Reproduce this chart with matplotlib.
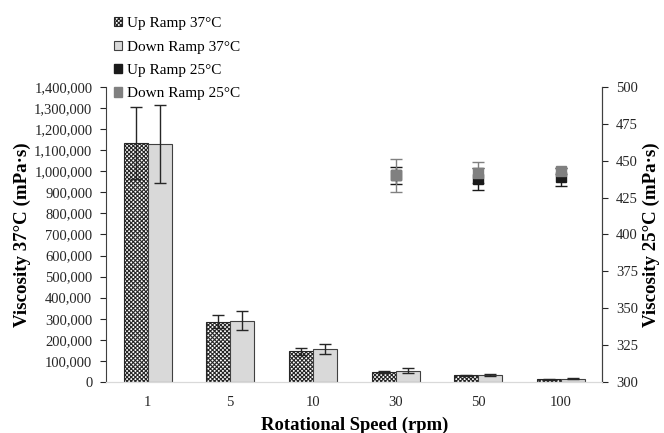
import numpy as np
import matplotlib
matplotlib.use('Agg')
import matplotlib.pyplot as plt
from matplotlib.patches import Patch

plt.rcParams['font.family'] = ['Liberation Serif', 'DejaVu Serif']
plt.rcParams['hatch.linewidth'] = 0.8

# Data
speeds = ['1', '5', '10', '30', '50', '100']

up37 = [1135000, 286000, 146000, 49000, 32000, 13000]
up37_err = [170000, 30000, 16000, 5000, 3000, 2000]
down37 = [1131000, 290000, 157000, 54000, 33000, 16000]
down37_err = [185000, 45000, 24000, 10000, 3000, 2000]

speeds25 = ['30', '50', '100']
up25 = [440.0, 437.9, 439.0]
up25_err = [6.1, 7.5, 6.3]
down25 = [440.3, 442.0, 442.8]
down25_err = [11.2, 7.0, 2.0]

fig = plt.figure(figsize=(6.64, 4.33), dpi=100)
ax = fig.add_axes([0.160, 0.118, 0.747, 0.681])
ax2 = ax.twinx()

x = np.arange(len(speeds))
w = 0.29
ax.bar(x - w / 2, up37, w, color='white', edgecolor='#262626', hatch='xxxxxxxx',
       linewidth=0.8, zorder=2)
ax.bar(x + w / 2, down37, w, color='#d9d9d9', edgecolor='#404040',
       linewidth=0.8, zorder=2)
ax.errorbar(x - w / 2, up37, yerr=up37_err, fmt='none', ecolor='#262626',
            elinewidth=1, capsize=4, capthick=1, zorder=3)
ax.errorbar(x + w / 2, down37, yerr=down37_err, fmt='none', ecolor='#262626',
            elinewidth=1, capsize=4, capthick=1, zorder=3)

x25 = np.array([speeds.index(s) for s in speeds25])
ax2.errorbar(x25, up25, yerr=up25_err, fmt='s', color='#1a1a1a', ms=7,
             ecolor='#1a1a1a', elinewidth=1, capsize=4, capthick=1)
ax2.errorbar(x25, down25, yerr=down25_err, fmt='s', color='#808080', ms=7,
             ecolor='#808080', elinewidth=1, capsize=4, capthick=1)

ax.set_xlim(-0.5, 5.5)
ax.set_ylim(0, 1400000)
ax.set_yticks(np.arange(0, 1400001, 100000))
ax.yaxis.set_major_formatter(matplotlib.ticker.FuncFormatter(lambda v, p: f'{int(v):,}'))
ax2.set_ylim(300, 500)
ax2.set_yticks(np.arange(300, 501, 25))
ax.set_xticks(x)
ax.set_xticklabels(speeds)

for a in (ax, ax2):
    a.spines['top'].set_visible(False)
    a.spines['bottom'].set_color('#d9d9d9')
    a.spines['left'].set_color('#404040')
    a.spines['right'].set_color('#404040')
    a.tick_params(labelsize=10.5, colors='#262626', length=4, width=0.8)
ax.tick_params(axis='y', pad=6)
ax2.tick_params(axis='y', pad=6)
ax.tick_params(axis='x', length=0, pad=10)
ax2.spines['left'].set_visible(False)

ax.set_xlabel('Rotational Speed (rpm)', fontsize=13.4, fontweight='bold', labelpad=6)
ax.set_ylabel('Viscosity 37°C (mPa·s)', fontsize=13.6, fontweight='bold', labelpad=2)
ax2.set_ylabel('Viscosity 25°C (mPa·s)', fontsize=13.6, fontweight='bold', labelpad=3)

handles = [
    Patch(facecolor='white', edgecolor='#262626', hatch='xxxxxxxx', linewidth=0.8),
    Patch(facecolor='#d9d9d9', edgecolor='#404040', linewidth=0.8),
    Patch(facecolor='#1a1a1a', edgecolor='#1a1a1a'),
    Patch(facecolor='#808080', edgecolor='#808080'),
]
labels = ['Up Ramp 37°C', 'Down Ramp 37°C', 'Up Ramp 25°C', 'Down Ramp 25°C']
fig.legend(handles, labels, loc='upper left', bbox_to_anchor=(0.155, 0.985),
           frameon=False, fontsize=11, handlelength=0.55, handleheight=0.55,
           handletextpad=0.35, labelspacing=0.68, borderpad=0.2)

fig.savefig('out.png', dpi=100)
